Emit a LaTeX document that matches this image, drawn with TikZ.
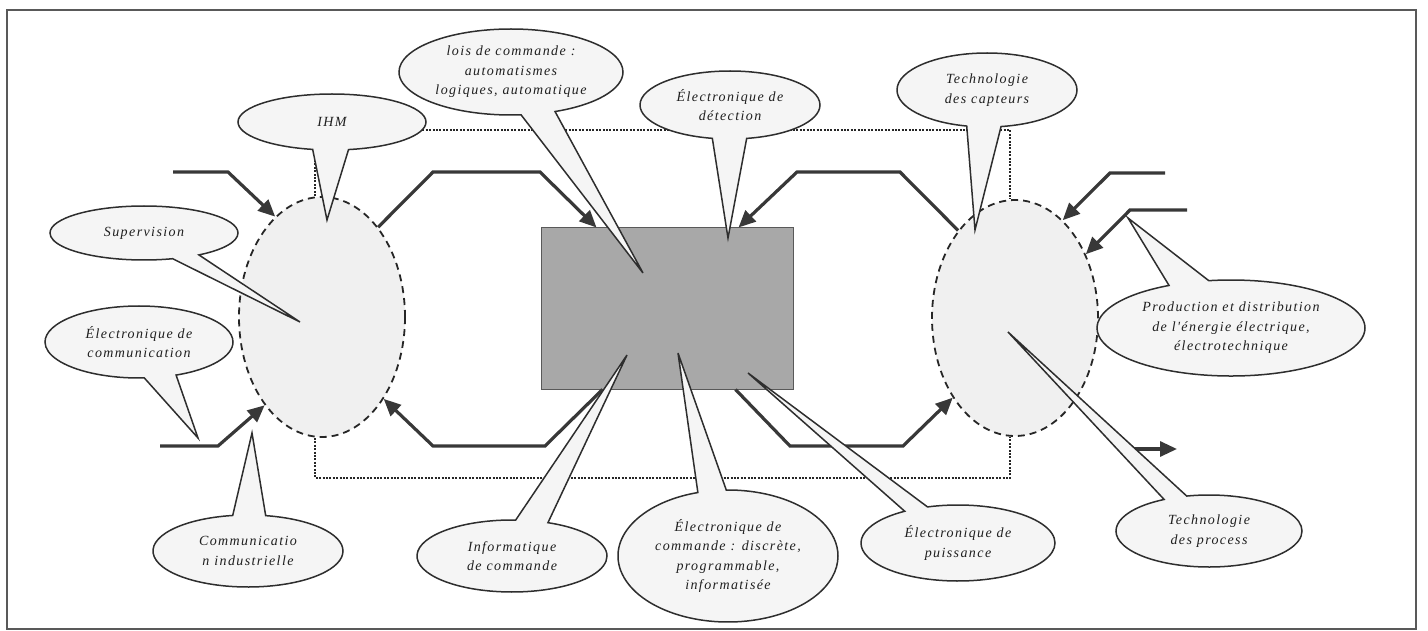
\documentclass[tikz,border=0pt]{standalone}
\usepackage{fontspec}
\setmainfont{Liberation Serif}
\newfontfamily\bubfont[LetterSpace=10]{Liberation Serif}
\usetikzlibrary{shapes.geometric,shapes.callouts,arrows.meta}
\tikzset{
  bub/.style={ellipse callout, draw=black!82, line width=1.5pt, fill=black!4,
    inner sep=0pt, align=center, text=black!88,
    font=\bubfont\itshape\fontsize{14}{19.5}\selectfont},
  zone/.style={ellipse, draw=black!85, dash pattern=on 7pt off 5pt,
    line width=1.8pt, fill=black!6, inner sep=0pt},
  core/.style={rectangle, draw=black!65, line width=1pt, fill=black!34, inner sep=0pt},
  flow/.style={draw=black!78, line width=3.2pt, line join=miter,
    -{Triangle[length=17pt,width=15pt]}},
  loopline/.style={draw=black!85, line width=2pt, dash pattern=on 2pt off 1.4pt},
  framebox/.style={draw=black!65, line width=1.4pt}
}
\begin{document}
\begin{tikzpicture}[x=1pt,y=-1pt]
\useasboundingbox (0,0) rectangle (1428,631);
\draw[framebox] (7,10) rectangle (1416,629);

% zones and core
\node[zone, minimum width=166pt, minimum height=240pt] (L) at (322,317) {};
\node[zone, minimum width=166pt, minimum height=236pt] (Rt) at (1015,318) {};
\node[core, minimum width=252pt, minimum height=161pt] (R) at (667,308.5) {};

% dotted loop
\draw[loopline] ([xshift=-7pt]L.north) -- ([xshift=-7pt]L.north |- 0,130) -- ([xshift=-5pt]Rt.north |- 0,130) -- ([xshift=-5pt]Rt.north);
\draw[loopline] ([xshift=-7pt]L.south) -- ([xshift=-7pt]L.south |- 0,478) -- ([xshift=-5pt]Rt.south |- 0,478) -- ([xshift=-5pt]Rt.south);

% free ends
\coordinate (inLa) at (173,172);
\coordinate (inLb) at (160,446);
\coordinate (inRa) at (1165,173);
\coordinate (inRb) at (1187,210);
\coordinate (outA) at (1122,449);
\coordinate (outB) at (1177,449);

% flows
\draw[flow] (inLa) -- (228,172) -- (L.115);
\draw[flow] (inLb) -- (218,446) -- (L.237);
\draw[flow] (L.58) -- (433,172) -- (540,172) -- ([xshift=56pt]R.north west);
\draw[flow] (Rt.123) -- (900,172) -- (797,172) -- ([xshift=-55pt]R.north east);
\draw[flow] ([xshift=62pt]R.south west) -- (545,446) -- (433,446) -- (L.-53);
\draw[flow] ([xshift=-58pt]R.south east) -- (790,446) -- (903,446) -- (Rt.232);
\draw[flow] (inRa) -- (1110,173) -- (Rt.64);
\draw[flow] (inRb) -- (1130,210) -- (Rt.42);
\draw[flow] (outA) -- (outB);

% pointer targets
\coordinate (pIHM) at (327,220);
\coordinate (pSup) at (300,322);
\coordinate (pECom) at (198,438);
\coordinate (pCInd) at (252,433);
\coordinate (pLois) at (643,273);
\coordinate (pEDet) at (728,238);
\coordinate (pTCap) at (975,230);
\coordinate (pProd) at (1128,218);
\coordinate (pTPro) at (1008,332);
\coordinate (pEPui) at (748,373);
\coordinate (pECmd) at (678,353);
\coordinate (pInfo) at (627,355);

% callouts
\node[bub, minimum width=188pt, minimum height=56pt, callout absolute pointer=(pIHM), callout pointer arc=22] (IHM) at (332,122) {IHM};
\node[bub, minimum width=188pt, minimum height=54pt, callout absolute pointer=(pSup), callout pointer arc=18] (Sup) at (144,233) {Supervision};
\node[bub, minimum width=188pt, minimum height=72pt, callout absolute pointer=(pECom), callout pointer arc=20] (ECom) at (139,342) {Électronique de\\communication};
\node[bub, minimum width=190pt, minimum height=72pt, callout absolute pointer=(pCInd), callout pointer arc=20] (CInd) at (248,551) {Communicatio\\n industrielle};
\node[bub, minimum width=224pt, minimum height=86pt, callout absolute pointer=(pLois), callout pointer arc=18] (Lois) at (511,72) {lois de commande :\\automatismes\\logiques, automatique};
\node[bub, minimum width=180pt, minimum height=68pt, callout absolute pointer=(pEDet), callout pointer arc=22] (EDet) at (730,105) {Électronique de\\détection};
\node[bub, minimum width=180pt, minimum height=74pt, callout absolute pointer=(pTCap), callout pointer arc=22] (TCap) at (987,90) {Technologie\\des capteurs};
\node[bub, minimum width=268pt, minimum height=96pt, callout absolute pointer=(pProd), callout pointer arc=18] (Prod) at (1231,328) {Production et distribution\\de l'énergie électrique,\\électrotechnique};
\node[bub, minimum width=186pt, minimum height=72pt, callout absolute pointer=(pTPro), callout pointer arc=15] (TPro) at (1209,531) {Technologie\\des process};
\node[bub, minimum width=194pt, minimum height=76pt, callout absolute pointer=(pEPui), callout pointer arc=15] (EPui) at (958,543) {Électronique de\\puissance};
\node[bub, minimum width=220pt, minimum height=132pt, callout absolute pointer=(pECmd), callout pointer arc=15] (ECmd) at (728,556) {Électronique de\\commande : discrète,\\programmable,\\informatisée};
\node[bub, minimum width=190pt, minimum height=72pt, callout absolute pointer=(pInfo), callout pointer arc=20] (Info) at (512,556) {Informatique\\de commande};
\end{tikzpicture}
\end{document}
